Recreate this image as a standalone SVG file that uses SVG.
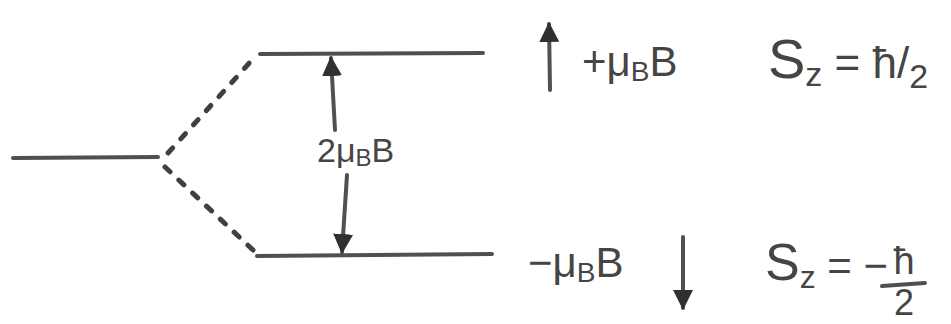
<svg xmlns="http://www.w3.org/2000/svg" width="951" height="324" viewBox="0 0 951 324">
<style>
.ln{stroke:#505050;stroke-width:4;stroke-linecap:round;fill:none}
.dot{stroke:#404040;stroke-width:5;stroke-linecap:round;fill:none;stroke-dasharray:7 12}
.t{font-family:"Liberation Sans",Arial,sans-serif;fill:#454545}
</style>
<defs>
<marker id="ah" viewBox="0 0 10 10" refX="9" refY="5" markerWidth="5" markerHeight="5" orient="auto-start-reverse" markerUnits="strokeWidth">
<path d="M0,0 L10,5 L0,10 z" fill="#303030"/>
</marker>
</defs>
<g id="level-initial"><line class="ln" x1="13" y1="158" x2="158" y2="157"/></g>
<g id="level-up"><line class="ln" x1="260" y1="54" x2="483" y2="53"/></g>
<g id="level-down"><line class="ln" x1="257" y1="256" x2="492" y2="254"/></g>
<g id="connectors">
<line class="dot" x1="168" y1="153" x2="252" y2="60"/>
<line class="dot" x1="165" y1="167" x2="253" y2="250"/>
<line class="ln" x1="335" y1="130" x2="331" y2="58" marker-end="url(#ah)"/>
<line class="ln" x1="347" y1="175" x2="342" y2="252" marker-end="url(#ah)"/>
<line class="ln" x1="550" y1="90" x2="549" y2="24" marker-end="url(#ah)"/>
<line class="ln" x1="683" y1="237" x2="683" y2="308" marker-end="url(#ah)"/>
</g>
<g id="label-split"><text class="t" x="317" y="162" font-size="34">2μ<tspan font-size="24" dy="4">B</tspan><tspan dy="-4">B</tspan></text></g>
<g id="label-up"><text class="t" x="582" y="76" font-size="42">+μ<tspan font-size="28" dy="5">B</tspan><tspan dy="-5">B</tspan></text></g>
<g id="label-down"><text class="t" x="528" y="277" font-size="42">−μ<tspan font-size="28" dy="5">B</tspan><tspan dy="-5">B</tspan></text></g>
<g id="label-sz-up"><text class="t" x="768" y="78" font-size="56">S<tspan font-size="34" dy="8">z</tspan><tspan dy="-8" font-size="44"> = ħ/</tspan><tspan font-size="34" dy="10">2</tspan></text></g>
<g id="label-sz-down"><text class="t" x="765" y="280" font-size="52">S<tspan font-size="32" dy="8">z</tspan><tspan dy="-8" font-size="42"> = −</tspan></text>
<text class="t" x="904" y="274" font-size="38" text-anchor="middle">ħ</text>
<line class="ln" x1="882" y1="286" x2="925" y2="283"/>
<text class="t" x="904" y="315" font-size="36" text-anchor="middle">2</text></g>
</svg>
